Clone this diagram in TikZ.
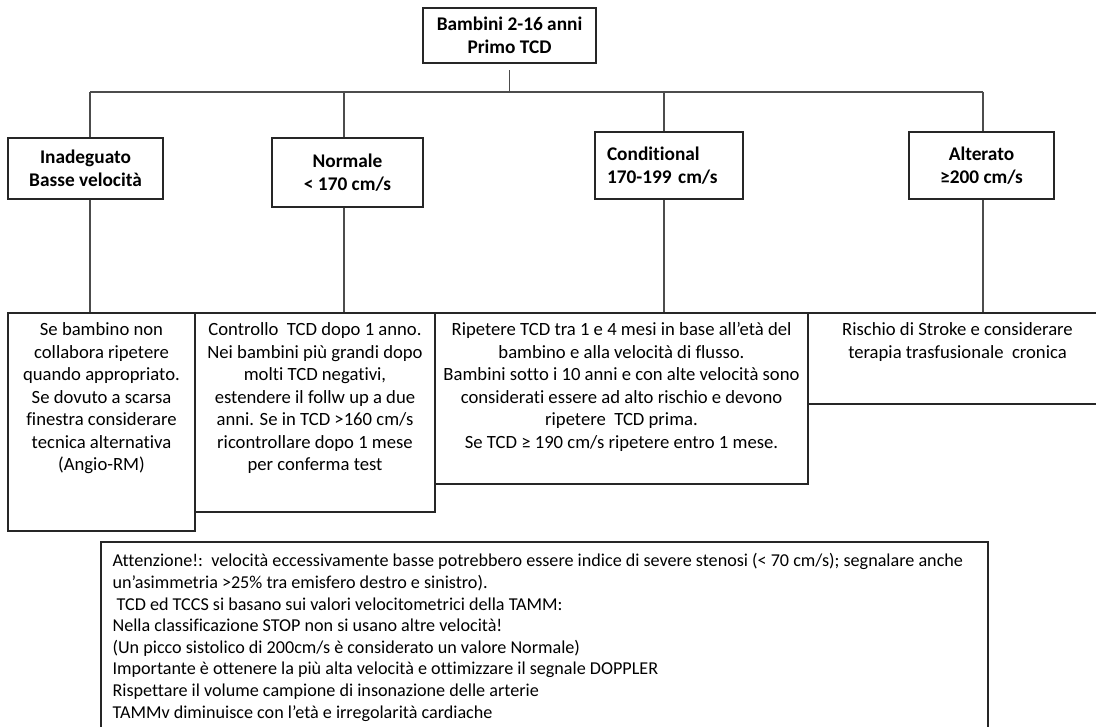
\documentclass[tikz,border=0pt]{standalone}
\usepackage{fontspec}
\setmainfont{Carlito}[Ligatures=NoCommon]
\usetikzlibrary{positioning}

\begin{document}
\begin{tikzpicture}[x=0.75pt, y=-0.75pt,
    box/.style={draw=black!85, line width=1pt, inner sep=0pt},
    head/.style={box, font=\bfseries\fontsize{14.5}{16.9}\selectfont, align=center},
    body/.style={font=\fontsize{14}{16.9}\selectfont, align=center, inner sep=0pt},
    note/.style={font=\fontsize{13.6}{16.2}\selectfont, align=left, inner sep=0pt},
    link/.style={draw=black!70, line width=0.9pt}]

    \useasboundingbox (0,0) rectangle (1096,727);

    \node[head, minimum width=129.75pt, minimum height=41.25pt] (top) at (509.5,35.5) {Bambini 2-16 anni\\Primo TCD};

    \node[head, minimum width=116.25pt, minimum height=45.75pt] (inad) at (85.5,168.5) {Inadeguato\\Basse velocità};
    \node[head, minimum width=113.25pt, minimum height=51.75pt] (norm) at (347.5,172.5) {Normale\\< 170 cm/s};
    \node[head, minimum width=111pt, minimum height=50.25pt, text width=93pt, inner xsep=9pt, align=left] (cond) at (669,165.5) {Conditional\\170-199 cm/s};
    \node[head, minimum width=108.75pt, minimum height=50.25pt] (alt) at (981.5,165.5) {Alterato\\≥200 cm/s};

    \node[box, minimum width=140.25pt, minimum height=163.5pt] (inadbox) at (101.5,422) {};
    \node[box, minimum width=180pt, minimum height=149.25pt] (normbox) at (315,412.5) {};
    \node[box, minimum width=279.75pt, minimum height=128.25pt] (condbox) at (621.5,398.5) {};
    \node[box, minimum width=224.25pt, minimum height=68.25pt] (altbox) at (957.5,358.5) {};

    \node[body, below=7.5pt of inadbox.north] (inadtxt) {Se bambino non\\collabora ripetere\\quando appropriato.\\Se dovuto a scarsa\\finestra considerare\\tecnica alternativa\\(Angio-RM)};
    \node[body, below=7.5pt of normbox.north] (normtxt) {Controllo\ \ TCD dopo 1 anno.\\Nei bambini più grandi dopo\\molti TCD negativi,\\estendere il follw up a due\\anni. Se in TCD >160 cm/s\\ricontrollare dopo 1 mese\\per conferma test};
    \node[body, below=7.5pt of condbox.north] (condtxt) {Ripetere TCD tra 1 e 4 mesi in base all’età del\\bambino e alla velocità di flusso.\\Bambini sotto i 10 anni e con alte velocità sono\\considerati essere ad alto rischio e devono\\ripetere\ \ TCD prima.\\Se TCD ≥ 190 cm/s ripetere entro 1 mese.};
    \node[body, below=7.5pt of altbox.north] (alttxt) {Rischio di Stroke e considerare\\terapia trasfusionale\ \ cronica};

    \node[box, minimum width=665.25pt, minimum height=148.5pt] (notebox) at (544.5,641) {};
    \node[note, below right=9pt and 9pt of notebox.north west] (notetxt) {Attenzione!:\ \ velocità eccessivamente basse potrebbero essere indice di severe stenosi (< 70 cm/s); segnalare anche\\un’asimmetria >25\% tra emisfero destro e sinistro).\\\ TCD ed TCCS si basano sui valori velocitometrici della TAMM:\\Nella classificazione STOP non si usano altre velocità!\\(Un picco sistolico di 200cm/s è considerato un valore Normale)\\Importante è ottenere la più alta velocità e ottimizzare il segnale DOPPLER\\Rispettare il volume campione di insonazione delle arterie\\TAMMv diminuisce con l’età e irregolarità cardiache};

    \coordinate (c1) at (90,92);
    \coordinate (c2) at (344,92);
    \coordinate (c3) at (664,92);
    \coordinate (c4) at (983,92);

    \draw[link, shorten <=5pt] (top.south) -- (top.south |- c1);
    \draw[link] (c1) -- (c4);
    \draw[link] (c1) -- (c1 |- inad.north);
    \draw[link] (c2) -- (c2 |- norm.north);
    \draw[link] (c3) -- (c3 |- cond.north);
    \draw[link] (c4) -- (c4 |- alt.north);
    \draw[link] (c1 |- inad.south) -- (c1 |- inadbox.north);
    \draw[link] (c2 |- norm.south) -- (c2 |- normbox.north);
    \draw[link] (c3 |- cond.south) -- (c3 |- condbox.north);
    \draw[link] (c4 |- alt.south) -- (c4 |- altbox.north);

  \end{tikzpicture}
\end{document}
